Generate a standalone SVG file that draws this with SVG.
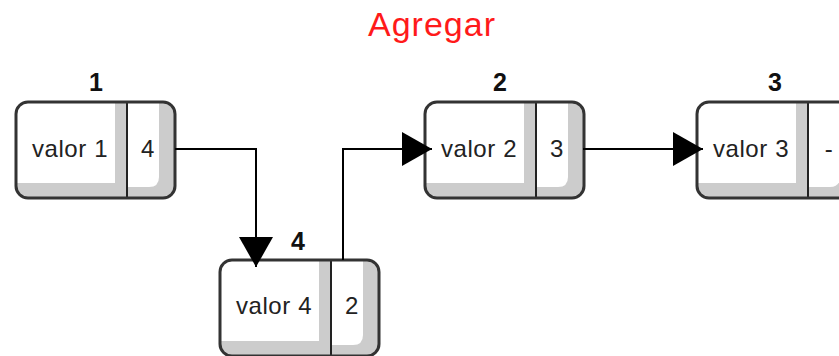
<svg xmlns="http://www.w3.org/2000/svg" xmlns:xlink="http://www.w3.org/1999/xlink" width="839" height="356" viewBox="0 0 839 356">
  <style>
    .title { font-family: "Liberation Sans", Arial, sans-serif; font-size: 34px; fill: #ff1a1a; letter-spacing: 1px; }
    .idx { font-family: "Liberation Sans", Arial, sans-serif; font-size: 25px; font-weight: bold; fill: #111; text-anchor: middle; }
    .val { font-family: "Liberation Sans", Arial, sans-serif; font-size: 24px; fill: #222; text-anchor: middle; letter-spacing: 0.6px; }
    .link { fill: none; stroke: #000; stroke-width: 2; marker-end: url(#head); }
  </style>
  <defs>
    <clipPath id="boxClip" clipPathUnits="userSpaceOnUse">
      <rect x="0" y="0" width="159" height="96" rx="12" ry="12"/>
    </clipPath>
    <!-- list node: value cell + pointer cell with bevelled inner shading -->
    <g id="box">
      <g clip-path="url(#boxClip)">
        <rect x="0" y="0" width="159" height="96" fill="#cccccc"/>
        <rect x="0" y="0" width="99" height="81" fill="#ffffff"/>
        <path d="M111,0 H143 V75 Q143,85 133,85 H111 Z" fill="#ffffff"/>
      </g>
      <line x1="111" y1="0" x2="111" y2="96" stroke="#222" stroke-width="2"/>
      <rect x="0" y="0" width="159" height="96" rx="12" ry="12" fill="none" stroke="#333" stroke-width="3"/>
    </g>
    <marker id="head" markerUnits="userSpaceOnUse" markerWidth="32" markerHeight="36" refX="30" refY="17" orient="auto" viewBox="0 0 32 36">
      <path d="M0,0 L30,17 L0,34 Z" fill="#000"/>
    </marker>
  </defs>

  <text class="title" x="368" y="36">Agregar</text>

  <g id="node1">
    <use xlink:href="#box" href="#box" transform="translate(16,102)"/>
    <text class="idx" x="96" y="91">1</text>
    <text class="val" x="70" y="157">valor 1</text>
    <text class="val" x="148" y="157">4</text>
  </g>

  <g id="node2">
    <use xlink:href="#box" href="#box" transform="translate(425,102)"/>
    <text class="idx" x="500" y="91">2</text>
    <text class="val" x="479" y="157">valor 2</text>
    <text class="val" x="557" y="157">3</text>
  </g>

  <g id="node3">
    <use xlink:href="#box" href="#box" transform="translate(697,102)"/>
    <text class="idx" x="775" y="91">3</text>
    <text class="val" x="751" y="157">valor 3</text>
    <text class="val" x="829" y="157">-</text>
  </g>

  <g id="node4">
    <use xlink:href="#box" href="#box" transform="translate(220,260)"/>
    <text class="idx" x="298" y="250">4</text>
    <text class="val" x="274" y="314">valor 4</text>
    <text class="val" x="352" y="314">2</text>
  </g>

  <g id="connectors">
    <path class="link" d="M175,149 H256 V267"/>
    <path class="link" d="M343,260 V149 H432"/>
    <path class="link" d="M583,149 H703"/>
  </g>
</svg>
